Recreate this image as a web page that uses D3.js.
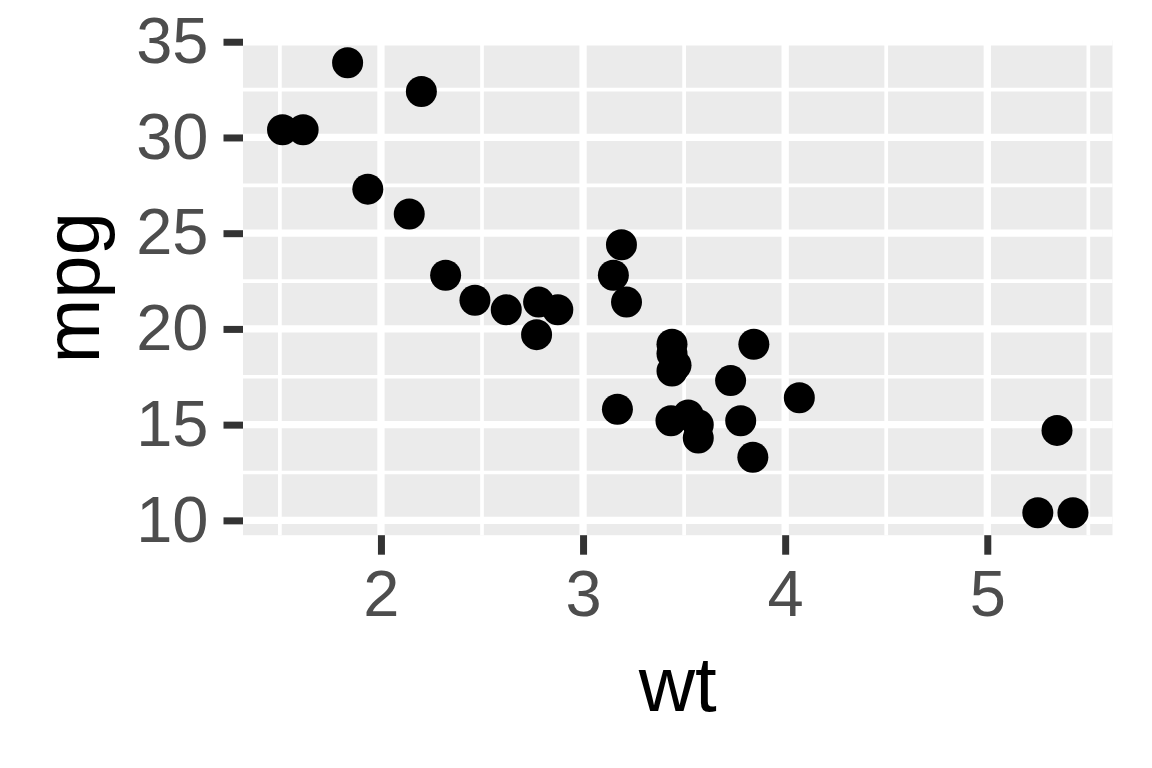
<!DOCTYPE html>
<html><head><meta charset="utf-8">
<script src="https://cdn.jsdelivr.net/npm/d3@7"></script>
<style>body{margin:0;background:#fff}svg{display:block}</style>
</head><body>
<script>
const wt  = [2.620,2.875,2.320,3.215,3.440,3.460,3.570,3.190,3.150,3.440,3.440,4.070,3.730,3.780,5.250,5.424,5.345,2.200,1.615,1.835,2.465,3.520,3.435,3.840,3.845,1.935,2.140,1.513,3.170,2.770,3.570,2.780];
const mpg = [21.0,21.0,22.8,21.4,18.7,18.1,14.3,24.4,22.8,19.2,17.8,16.4,17.3,15.2,10.4,10.4,14.7,32.4,30.4,33.9,21.5,15.5,15.2,13.3,19.2,27.3,26.0,30.4,15.8,19.7,15.0,21.4];
const xTicks = [2,3,4,5];
const yTicks = [10,15,20,25,30,35];
const xMinor = [1.5,2.5,3.5,4.5,5.5];
const yMinor = [12.5,17.5,22.5,27.5,32.5];
const xTitle = "wt", yTitle = "mpg";

const W = 1152, H = 768;
const svg = d3.select("body").append("svg").attr("width", W).attr("height", H);

function expand(ext){ const r = ext[1]-ext[0]; return [ext[0]-0.05*r, ext[1]+0.05*r]; }
const x = d3.scaleLinear().domain(expand(d3.extent(wt))).range([243, 1112.5]);
const y = d3.scaleLinear().domain(expand(d3.extent(mpg))).range([535.2, 40.3]);

const [px0, px1] = x.range(), [py0, py1] = [y.range()[1], y.range()[0]];
svg.append("rect").attr("x", px0).attr("y", py0).attr("width", px1-px0).attr("height", py1-py0).attr("fill", "#EBEBEB");

const g = svg.append("g");
g.selectAll(".xminor").data(xMinor.filter(v => x(v) >= px0 && x(v) <= px1)).join("line")
  .attr("x1", d => x(d)).attr("x2", d => x(d)).attr("y1", py0).attr("y2", py1)
  .attr("stroke", "#fff").attr("stroke-width", 3.7);
g.selectAll(".yminor").data(yMinor).join("line")
  .attr("y1", d => y(d)).attr("y2", d => y(d)).attr("x1", px0).attr("x2", px1)
  .attr("stroke", "#fff").attr("stroke-width", 3.7);
g.selectAll(".xmajor").data(xTicks).join("line")
  .attr("x1", d => x(d)).attr("x2", d => x(d)).attr("y1", py0).attr("y2", py1)
  .attr("stroke", "#fff").attr("stroke-width", 7.3);
g.selectAll(".ymajor").data(yTicks).join("line")
  .attr("y1", d => y(d)).attr("y2", d => y(d)).attr("x1", px0).attr("x2", px1)
  .attr("stroke", "#fff").attr("stroke-width", 7.3);

// points
svg.append("g").selectAll("circle").data(wt.map((w,i)=>[w,mpg[i]])).join("circle")
  .attr("cx", d => x(d[0])).attr("cy", d => y(d[1])).attr("r", 15.5).attr("fill", "#000");

// axes
const font = "'Liberation Sans', Arial, sans-serif";
const xAxis = d3.axisBottom(x).tickValues(xTicks).tickSize(19.5).tickPadding(15).tickFormat(d3.format("d"));
const xa = svg.append("g").attr("transform", `translate(0,${py1})`).call(xAxis);
xa.select(".domain").remove();
xa.selectAll(".tick line").attr("stroke", "#333333").attr("stroke-width", 7);
xa.selectAll(".tick text").attr("fill", "#4D4D4D").style("font-family", font).style("font-size", "65px");

const yAxis = d3.axisLeft(y).tickValues(yTicks).tickSize(19.5).tickPadding(15).tickFormat(d3.format("d"));
const ya = svg.append("g").attr("transform", `translate(${px0},0)`).call(yAxis);
ya.select(".domain").remove();
ya.selectAll(".tick line").attr("stroke", "#333333").attr("stroke-width", 7);
ya.selectAll(".tick text").attr("fill", "#4D4D4D").style("font-family", font).style("font-size", "65px");

svg.append("text").attr("x", (px0+px1)/2).attr("y", 711).attr("text-anchor", "middle")
  .style("font-family", font).style("font-size", "78px").attr("fill", "#000").text(xTitle);
svg.append("text").attr("transform", `translate(99,${(py0+py1)/2}) rotate(-90)`).attr("text-anchor", "middle")
  .style("font-family", font).style("font-size", "78px").attr("fill", "#000").text(yTitle);
</script>
</body></html>
